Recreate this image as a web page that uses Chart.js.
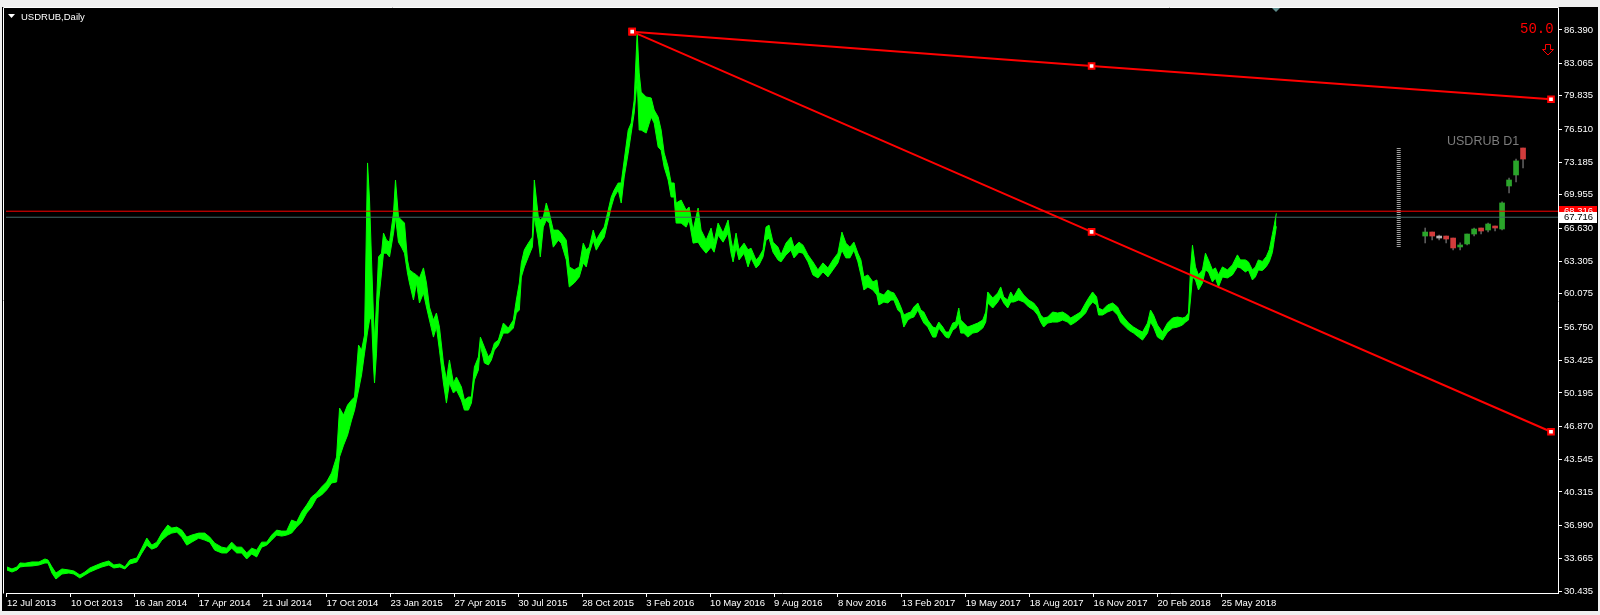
<!DOCTYPE html>
<html>
<head>
<meta charset="utf-8">
<script src="https://cdn.jsdelivr.net/npm/chart.js@4.4.0/dist/chart.umd.min.js"></script>
<style>
html,body{margin:0;padding:0;background:#000;overflow:hidden}
canvas{display:block}
</style>
</head>
<body>
<canvas id="c" width="1600" height="615"></canvas>
<script>
// ---- data (daily USDRUB, sampled bar index / high / low) ----
const barIndex = [
0,5,10,13,18,25,32,38,41,45,
49,55,62,67,73,78,83,90,95,102,
107,113,118,123,130,135,140,145,150,155,
161,165,170,175,180,185,192,198,203,208,
215,220,225,230,235,240,245,250,255,260,
265,270,275,280,285,290,295,300,305,310,
315,320,325,330,333,337,341,345,348,352,
355,358,361,363,365,367,368,370,372,375,
377,380,383,387,389,392,395,398,401,403,
407,410,413,417,420,423,427,430,433,437,
440,443,447,450,455,458,462,465,468,472,
474,478,482,485,488,492,497,502,507,510,
513,515,518,522,526,528,532,534,537,540,
543,547,552,555,560,563,568,573,577,580,
583,587,590,594,598,602,605,608,612,615,
618,622,625,628,631,633,635,640,645,648,
652,655,658,662,665,668,670,675,680,683,
687,692,695,700,705,708,712,717,722,725,
727,730,733,738,742,745,750,753,757,760,
763,767,772,775,780,785,788,793,797,802,
807,812,817,822,827,832,836,840,844,848,
852,855,858,862,867,871,873,878,882,885,
888,892,895,898,902,905,908,912,915,918,
922,927,930,933,937,940,943,947,950,953,
955,958,962,967,972,977,980,982,987,992,
995,998,1002,1005,1008,1013,1018,1023,1028,1032,
1035,1038,1042,1047,1052,1057,1062,1065,1070,1075,
1080,1083,1087,1091,1093,1097,1102,1107,1112,1115,
1118,1123,1128,1133,1137,1142,1145,1148,1152,1157,
1162,1167,1172,1177,1180,1183,1185,1187,1190,1193,
1197,1200,1203,1207,1210,1213,1217,1222,1227,1232,
1235,1240,1243,1247,1250,1253,1257,1261,1264,1267,1269,1271
];
const barHigh = [
32.83,32.63,32.83,33.23,33.2,33.33,33.33,33.63,33.53,32.83,
32.23,32.63,32.53,32.43,32.03,32.33,32.73,33.03,33.23,33.43,
33.03,33.13,32.83,33.53,33.73,34.71,35.71,35.01,35.31,36.21,
37.01,36.71,36.81,36.51,35.81,36.01,36.21,36.21,35.81,35.21,
34.81,34.71,35.31,34.81,34.81,34.23,34.71,34.51,35.31,35.31,
36.01,36.51,36.41,36.41,37.51,37.31,38.31,39.01,39.81,40.21,
40.81,41.31,42.21,43.81,48.68,47.98,48.98,49.48,49.78,54.96,
54.46,55.96,73.13,69.43,63.46,57.76,55.46,59.16,63.76,64.13,
66.13,65.43,65.23,68.13,71.43,67.73,67.43,67.13,63.46,62.46,
62.16,61.96,61.66,62.66,61.16,58.76,57.46,58.16,56.76,53.18,
51.48,53.48,51.18,51.78,50.78,49.48,49.78,49.78,52.78,53.78,
55.76,54.76,53.78,54.18,55.16,55.46,57.16,56.66,57.46,59.46,
61.16,63.16,64.46,65.13,65.73,71.43,67.73,67.43,67.73,69.13,
68.13,66.43,66.43,66.13,65.43,62.76,62.46,62.76,65.13,64.46,
64.73,66.43,65.43,66.13,66.73,68.43,69.73,70.43,71.13,71.13,
73.41,76.41,77.11,79.41,86.11,82.11,80.21,79.71,79.61,78.41,
77.71,76.41,74.13,72.73,71.13,71.13,69.13,69.43,68.43,68.73,
66.43,68.63,66.43,65.43,66.63,65.23,67.13,66.13,67.43,65.43,
64.46,66.13,64.46,65.13,64.46,64.63,63.46,63.76,64.46,66.73,
66.93,65.23,64.73,63.96,65.13,65.73,64.73,65.23,64.93,63.96,
63.26,62.46,63.16,62.66,63.46,64.13,66.23,65.13,64.73,65.23,
64.13,63.46,61.76,61.96,61.26,61.46,60.16,59.96,60.46,60.26,
60.16,59.46,58.76,57.96,58.16,58.26,58.76,59.16,58.46,58.26,
57.46,56.76,56.66,57.26,56.76,56.26,56.26,57.16,57.26,58.66,
57.46,57.16,56.76,56.96,57.16,57.46,58.26,60.26,59.66,60.16,
60.76,59.76,59.46,60.26,59.76,60.66,59.96,59.46,59.16,58.66,
57.96,57.66,57.76,58.26,58.16,58.26,57.96,57.66,57.96,58.26,
59.16,59.66,60.26,59.76,58.66,58.46,58.96,59.16,58.76,58.16,
57.76,57.16,56.76,56.46,56.26,57.16,58.46,57.96,56.96,56.26,
57.16,57.66,57.76,57.66,57.76,58.16,62.46,64.93,62.76,61.96,
62.46,64.13,63.46,62.46,62.66,61.96,62.76,62.46,62.96,63.96,
63.46,63.46,63.26,62.46,62.76,63.46,63.3,63.8,64.5,66.0,67.0,68.1
];
const barLow = [
32.53,32.33,32.53,32.83,32.9,32.93,33.03,33.23,33.23,32.23,
31.63,32.13,32.23,32.13,31.73,32.03,32.33,32.63,32.83,33.03,
32.73,32.83,32.63,33.13,33.33,34.21,35.01,34.61,34.81,35.51,
36.01,36.21,36.31,35.81,35.01,35.31,35.71,35.51,35.31,34.51,
34.23,34.23,34.71,34.23,34.23,33.63,34.13,33.83,34.81,35.01,
35.51,36.01,35.91,36.01,36.21,36.81,37.31,38.21,38.81,39.71,
40.01,40.51,41.21,41.31,43.81,44.98,45.98,47.48,48.48,50.48,
51.98,54.16,56.26,57.46,57.76,52.78,51.18,54.16,59.26,62.16,
64.13,64.13,63.76,66.13,67.73,65.23,64.73,64.13,62.16,61.16,
59.46,61.16,59.16,60.16,58.76,57.46,55.76,56.76,54.46,51.18,
49.18,51.18,50.18,50.48,49.48,48.48,48.48,49.18,51.48,52.48,
54.96,53.18,52.98,53.48,54.46,54.96,56.16,56.16,56.66,58.16,
58.46,61.76,62.76,63.76,64.73,67.73,65.43,63.76,66.73,67.43,
67.13,64.73,65.43,65.13,63.46,60.76,61.16,61.76,63.16,62.76,
64.13,65.43,64.43,65.13,65.73,67.43,68.73,69.73,70.43,69.13,
71.73,74.11,76.11,78.11,81.41,76.41,76.41,76.11,77.71,77.11,
74.71,74.41,72.73,71.43,69.73,69.73,67.13,67.13,66.73,67.43,
65.13,65.23,64.73,64.13,64.73,64.23,65.93,65.23,66.13,64.13,
63.26,64.73,63.46,64.13,62.76,63.66,62.66,62.96,63.76,65.43,
65.63,64.23,63.46,63.26,63.96,64.43,63.66,64.23,64.13,63.26,
61.96,61.66,62.26,61.76,62.46,63.16,64.43,63.66,63.66,64.43,
63.26,61.96,60.46,60.76,60.46,59.96,58.96,59.26,59.16,59.46,
59.46,58.46,58.16,56.76,57.46,57.66,57.76,58.46,57.76,57.16,
56.76,55.76,55.76,56.66,56.16,55.76,55.66,56.46,56.66,57.16,
56.16,56.16,55.76,56.16,56.26,56.66,57.26,59.16,58.66,59.26,
59.76,59.16,58.66,59.26,59.26,59.46,59.26,58.76,58.46,57.96,
57.26,56.76,57.16,57.26,57.26,57.46,57.26,56.96,57.26,57.66,
58.16,58.76,59.26,58.96,57.96,57.96,58.26,58.46,57.96,57.26,
56.96,56.46,56.16,55.76,55.46,56.16,57.26,56.76,55.76,55.46,
56.26,56.66,56.76,56.96,57.26,57.46,59.46,61.76,61.46,60.46,
61.16,62.46,62.26,61.26,61.66,60.76,61.76,61.66,61.96,62.76,
62.66,62.26,62.46,61.46,61.76,62.46,62.4,62.8,63.3,64.2,65.5,66.8
];

// axis ticks
const dateTickIndex = [0,64,128,192,256,320,384,448,512,576,640,704,768,832,896,960,1024,1088,1152,1216];
const dateTickLabels = ["12 Jul 2013","10 Oct 2013","16 Jan 2014","17 Apr 2014","21 Jul 2014","17 Oct 2014","23 Jan 2015","27 Apr 2015","30 Jul 2015","28 Oct 2015","3 Feb 2016","10 May 2016","9 Aug 2016","8 Nov 2016","13 Feb 2017","19 May 2017","18 Aug 2017","16 Nov 2017","20 Feb 2018","25 May 2018"];
const priceTicks = [86.390,83.065,79.835,76.510,73.185,69.955,66.630,63.305,60.075,56.750,53.425,50.195,46.870,43.545,40.315,36.990,33.665,30.435];

// price lines
const askPrice = 68.316;
const bidPrice = 67.716;

// trendlines (anchor bar index / price)
const upperTrendIdx = [626,1086,1546];
const upperTrendVal = [86.22,82.80,79.48];
const lowerTrendIdx = [626,1086,1546];
const lowerTrendVal = [86.22,66.25,46.32];

// mini D1 candles (indicator panel)
const candleIdx   = [1420,1427,1434,1441,1448,1455,1462,1469,1476,1483,1490,1497,1504,1511,1518];
const candleOpen  = [65.84,66.24,65.74,65.84,65.64,64.75,65.05,66.04,66.64,66.44,66.84,66.54,70.83,71.93,74.62];
const candleClose = [66.24,65.84,65.64,65.54,64.65,64.95,66.04,66.54,66.34,67.04,66.64,69.14,71.43,73.33,73.52];
const candleHigh  = [66.64,66.24,65.94,65.84,65.64,65.15,66.04,66.64,66.64,67.14,66.84,69.24,71.63,73.52,74.62];
const candleLow   = [65.15,65.44,65.44,65.15,64.45,64.45,64.95,65.84,66.04,66.24,66.34,66.44,70.13,71.23,72.63];
const gaugeIdx = 1393.5;
const gaugeRange = [74.62, 64.75];

// scale ranges
const xMin = -1, xMax = 1553;
const yMin = 30.236, yMax = 88.484;

// ---- build ----
const FONT = "'Liberation Sans', Arial, sans-serif";
Chart.defaults.font.family = FONT;
Chart.defaults.font.size = 9.5;

const highPts = barIndex.map((x,i)=>({x, y:barHigh[i]}));
const lowPts  = barIndex.map((x,i)=>({x, y:barLow[i]}));
const candleColor = candleIdx.map((_,i)=>{
  const d = candleClose[i]-candleOpen[i];
  return d > 0.15 ? '#2aa52a' : (d < -0.15 ? '#d23c3c' : '#b4b4b4');
});

const decor = {
  id:'decor',
  beforeDraw(chart){
    const ctx = chart.ctx;
    ctx.save();
    ctx.fillStyle = '#000';
    ctx.fillRect(0,0,1600,615);
    ctx.fillStyle = '#f0f0f0';
    ctx.fillRect(0,0,1600,7);
    ctx.fillRect(0,0,2,615);
    ctx.fillRect(1598,0,2,615);
    ctx.fillRect(0,611,1600,4);
    ctx.restore();
  },
  afterDraw(chart){
    const {ctx, chartArea:a, scales:{y}} = chart;
    ctx.save();
    // frame
    ctx.strokeStyle = '#fff'; ctx.lineWidth = 1;
    ctx.beginPath();
    ctx.moveTo(3.5, a.bottom+0.5); ctx.lineTo(3.5, 7.5); ctx.lineTo(a.right+0.5, 7.5); ctx.lineTo(a.right+0.5, 9);
    ctx.stroke();
    // shift marker
    ctx.fillStyle = '#5f8c8c';
    ctx.beginPath(); ctx.moveTo(1272,8); ctx.lineTo(1280,8); ctx.lineTo(1276,12); ctx.closePath(); ctx.fill();
    // title
    ctx.fillStyle = '#fff';
    ctx.beginPath(); ctx.moveTo(8,14); ctx.lineTo(15,14); ctx.lineTo(11.5,18); ctx.closePath(); ctx.fill();
    ctx.font = "9.5px " + FONT;
    ctx.textBaseline = 'alphabetic'; ctx.textAlign = 'left';
    ctx.fillText('USDRUB,Daily', 21, 20);
    // indicator text
    ctx.fillStyle = '#ff0000';
    ctx.font = "14px 'Liberation Mono', 'DejaVu Sans Mono', monospace";
    ctx.fillText('50.0', 1520, 33);
    // outlined down arrow
    ctx.strokeStyle = '#ff0000'; ctx.lineWidth = 1;
    ctx.beginPath();
    ctx.moveTo(1545.5,44.5); ctx.lineTo(1550.5,44.5); ctx.lineTo(1550.5,49.5); ctx.lineTo(1553.5,49.5);
    ctx.lineTo(1548,55); ctx.lineTo(1542.5,49.5); ctx.lineTo(1545.5,49.5); ctx.closePath();
    ctx.stroke();
    // panel caption
    ctx.fillStyle = '#7c7c7c';
    ctx.font = "12.5px " + FONT;
    ctx.fillText('USDRUB D1', 1447, 145);
    // price labels on the axis
    const yA = Math.round(y.getPixelForValue(askPrice));
    const yB = Math.round(y.getPixelForValue(bidPrice));
    ctx.font = "9.5px " + FONT;
    ctx.textBaseline = 'middle';
    ctx.fillStyle = '#ff0000'; ctx.fillRect(a.right+1, yA-5, 38, 11);
    ctx.fillStyle = '#fff'; ctx.fillText(askPrice.toFixed(3), a.right+6, yA+0.5);
    ctx.fillStyle = '#fff'; ctx.fillRect(a.right+1, yB-5, 38, 11);
    ctx.fillStyle = '#000'; ctx.fillText(bidPrice.toFixed(3), a.right+6, yB+0.5);
    ctx.restore();
  }
};

const trendPoint = {pointStyle:'rect', pointRadius:4, pointBackgroundColor:'#ffffff', pointBorderColor:'#ff0000', pointBorderWidth:2};

new Chart(document.getElementById('c'), {
  type:'line',
  data:{
    datasets:[
      Object.assign({label:'trend1', data:upperTrendIdx.map((x,i)=>({x,y:upperTrendVal[i]})), borderColor:'#ff0000', borderWidth:2, order:0}, trendPoint),
      Object.assign({label:'trend2', data:lowerTrendIdx.map((x,i)=>({x,y:lowerTrendVal[i]})), borderColor:'#ff0000', borderWidth:2, order:0}, trendPoint),
      {label:'ask', data:[{x:xMin,y:askPrice},{x:xMax,y:askPrice}], borderColor:'#ff0000', borderWidth:1, pointRadius:0, order:1},
      {label:'bid', data:[{x:xMin,y:bidPrice},{x:xMax,y:bidPrice}], borderColor:'#466868', borderWidth:1, pointRadius:0, order:1},
      {label:'high', data:highPts, borderColor:'#00ff00', backgroundColor:'#00ff00', borderWidth:1, pointRadius:0, fill:'+1', order:6},
      {label:'low', data:lowPts, borderColor:'#00ff00', borderWidth:1, pointRadius:0, fill:false, order:7},
      {type:'bar', label:'wick', data:candleIdx.map((x,i)=>({x, y:[candleLow[i], candleHigh[i]]})), backgroundColor:'#5a5a5a', barThickness:1, grouped:false, order:3},
      {type:'bar', label:'body', data:candleIdx.map((x,i)=>({x, y:[Math.min(candleOpen[i],candleClose[i]), Math.max(candleOpen[i],candleClose[i])]})), backgroundColor:candleColor, barThickness:5, grouped:false, minBarLength:2, order:2},
      {label:'gauge', data:[{x:gaugeIdx,y:gaugeRange[0]},{x:gaugeIdx,y:gaugeRange[1]}], borderColor:'#a0a0a0', borderWidth:4, borderDash:[1,1], borderCapStyle:'butt', pointRadius:0, order:4}
    ]
  },
  options:{
    responsive:false, animation:false, devicePixelRatio:1,
    layout:{padding:{left:4, top:9, right:0, bottom:0}},
    plugins:{legend:{display:false}, tooltip:{enabled:false}, title:{display:false}},
    elements:{line:{tension:0}, point:{radius:0}},
    scales:{
      x:{
        type:'linear', min:xMin, max:xMax, offset:false,
        afterBuildTicks:s=>{ s.ticks = dateTickIndex.map(v=>({value:v})); },
        afterFit:s=>{ s.height = 22; },
        ticks:{autoSkip:false, maxRotation:0, minRotation:0, align:'start', color:'#ffffff', padding:1,
               font:{size:9.5}, callback:(v,i)=>dateTickLabels[i]},
        grid:{display:true, drawOnChartArea:false, drawTicks:true, tickLength:4, color:'#ffffff', offset:false},
        border:{display:true, color:'#ffffff', width:1}
      },
      y:{
        type:'linear', position:'right', min:yMin, max:yMax,
        afterBuildTicks:s=>{ s.ticks = priceTicks.map(v=>({value:v})); },
        afterFit:s=>{ s.width = 42; },
        ticks:{autoSkip:false, color:'#ffffff', padding:2, font:{size:9.5}, callback:v=>Number(v).toFixed(3)},
        grid:{display:true, drawOnChartArea:false, drawTicks:true, tickLength:4, color:'#ffffff'},
        border:{display:true, color:'#ffffff', width:1}
      }
    }
  },
  plugins:[decor]
});
</script>
</body>
</html>
